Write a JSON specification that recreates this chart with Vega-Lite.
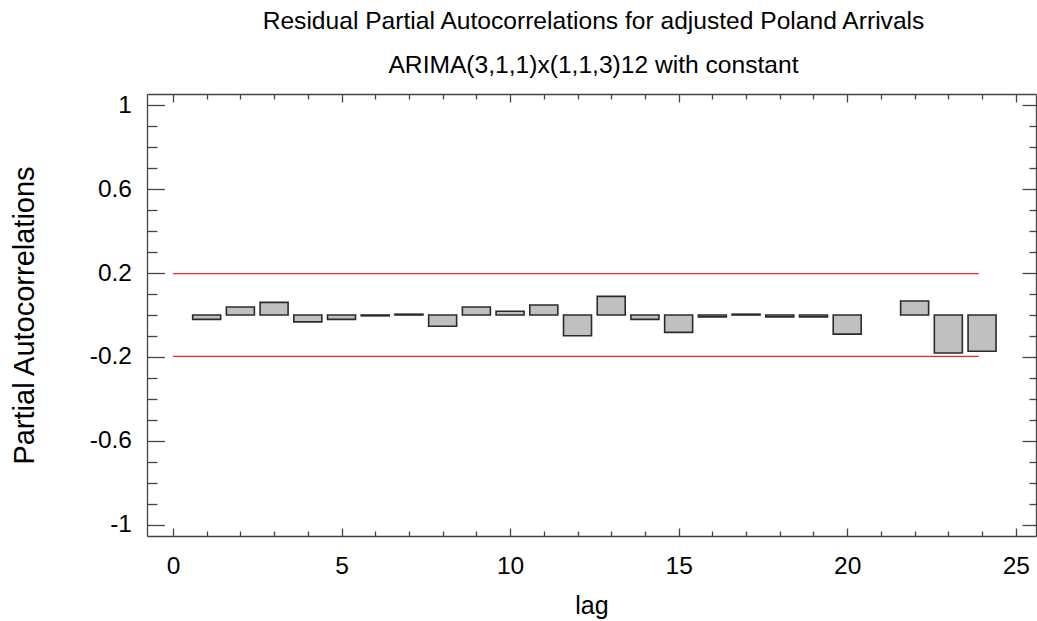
{
  "$schema": "https://vega.github.io/schema/vega-lite/v6.json",
  "width": 889,
  "height": 442,
  "autosize": "none",
  "padding": {"left": 147, "top": 94, "right": 1, "bottom": 85},
  "background": "white",
  "config": {"view": {"stroke": null}, "font": "Liberation Sans"},
  "title": {
    "text": ["Residual Partial Autocorrelations for adjusted Poland Arrivals", "ARIMA(3,1,1)x(1,1,3)12 with constant"],
    "fontSize": 24.6,
    "fontWeight": "normal",
    "font": "Liberation Sans",
    "color": "#000000",
    "anchor": "middle",
    "frame": "group",
    "lineHeight": 44,
    "baseline": "bottom",
    "offset": -10,
    "dx": 2
  },
  "layer": [
    {
      "data": {"values": [
        {"lag": 1, "pacf": -0.021},
        {"lag": 2, "pacf": 0.038},
        {"lag": 3, "pacf": 0.060},
        {"lag": 4, "pacf": -0.033},
        {"lag": 5, "pacf": -0.021},
        {"lag": 6, "pacf": -0.004},
        {"lag": 7, "pacf": 0.004},
        {"lag": 8, "pacf": -0.054},
        {"lag": 9, "pacf": 0.038},
        {"lag": 10, "pacf": 0.018},
        {"lag": 11, "pacf": 0.048},
        {"lag": 12, "pacf": -0.099},
        {"lag": 13, "pacf": 0.089},
        {"lag": 14, "pacf": -0.021},
        {"lag": 15, "pacf": -0.083},
        {"lag": 16, "pacf": -0.009},
        {"lag": 17, "pacf": 0.004},
        {"lag": 18, "pacf": -0.009},
        {"lag": 19, "pacf": -0.009},
        {"lag": 20, "pacf": -0.091},
        {"lag": 22, "pacf": 0.067},
        {"lag": 23, "pacf": -0.181},
        {"lag": 24, "pacf": -0.173}
      ]},
      "mark": {"type": "bar", "size": 28, "fill": "#c0c0c0", "stroke": "#2b2b2b", "strokeWidth": 1.6},
      "encoding": {
        "x": {
          "field": "lag", "type": "quantitative",
          "scale": {"domain": [-0.77, 25.6], "nice": false, "zero": false, "padding": 0},
          "axis": {
            "orient": "bottom",
            "values": [0,1,2,3,4,5,6,7,8,9,10,11,12,13,14,15,16,17,18,19,20,21,22,23,24,25],
            "labelExpr": "datum.value % 5 === 0 ? datum.label : ''",
            "tickSize": {"condition": {"test": "datum.value % 5 === 0", "value": -8}, "value": -5},
            "tickColor": "#444444", "tickWidth": 1.3,
            "domainColor": "#444444", "domainWidth": 1.3,
            "grid": false,
            "labelFont": "Liberation Sans", "labelFontSize": 24.5, "labelColor": "#000000",
            "labelPadding": 26, "labelFlush": false,
            "title": "lag", "titleFont": "Liberation Sans", "titleFontSize": 25, "titleFontWeight": "normal", "titleColor": "#000000",
            "titleY": 77, "titleBaseline": "alphabetic"
          }
        },
        "y": {
          "field": "pacf", "type": "quantitative",
          "scale": {"domain": [-1.054, 1.054], "nice": false, "zero": false, "padding": 0},
          "axis": {
            "orient": "left",
            "values": [-1,-0.9,-0.8,-0.7,-0.6,-0.5,-0.4,-0.3,-0.2,-0.1,0,0.1,0.2,0.3,0.4,0.5,0.6,0.7,0.8,0.9,1],
            "labelExpr": "abs(round(datum.value*10)) % 4 === 2 ? '' + round(datum.value*10)/10 : ''",
            "tickSize": {"condition": {"test": "abs(round(datum.value*10)) % 4 === 2", "value": -17.5}, "value": -10},
            "tickColor": "#444444", "tickWidth": 1.3,
            "domainColor": "#444444", "domainWidth": 1.3,
            "grid": false,
            "labelFont": "Liberation Sans", "labelFontSize": 24.5, "labelColor": "#000000",
            "labelPadding": 33, "labelFlush": false,
            "title": "Partial Autocorrelations", "titleFont": "Liberation Sans", "titleFontSize": 29, "titleFontWeight": "normal", "titleColor": "#000000",
            "titleX": -114, "titleBaseline": "alphabetic"
          }
        }
      }
    },
    {
      "data": {"values": [
        {"from": 0, "to": 23.9, "limit": 0.197},
        {"from": 0, "to": 23.9, "limit": -0.197}
      ]},
      "mark": {"type": "rule", "color": "#ff2020", "strokeWidth": 1.3},
      "encoding": {
        "x": {
          "field": "from", "type": "quantitative",
          "axis": {
            "orient": "top",
            "values": [0,1,2,3,4,5,6,7,8,9,10,11,12,13,14,15,16,17,18,19,20,21,22,23,24,25],
            "labels": false,
            "tickSize": {"condition": {"test": "datum.value % 5 === 0", "value": -8}, "value": -5},
            "tickColor": "#444444", "tickWidth": 1.3,
            "domainColor": "#444444", "domainWidth": 1.3,
            "grid": false,
            "title": null
          }
        },
        "x2": {"field": "to"},
        "y": {
          "field": "limit", "type": "quantitative",
          "axis": {
            "orient": "right",
            "values": [-1,-0.9,-0.8,-0.7,-0.6,-0.5,-0.4,-0.3,-0.2,-0.1,0,0.1,0.2,0.3,0.4,0.5,0.6,0.7,0.8,0.9,1],
            "labels": false,
            "tickSize": {"condition": {"test": "abs(round(datum.value*10)) % 4 === 2", "value": -14}, "value": -7},
            "tickColor": "#444444", "tickWidth": 1.3,
            "domainColor": "#444444", "domainWidth": 1.3,
            "grid": false,
            "title": null
          }
        }
      }
    }
  ],
  "resolve": {"axis": {"x": "independent", "y": "independent"}}
}
